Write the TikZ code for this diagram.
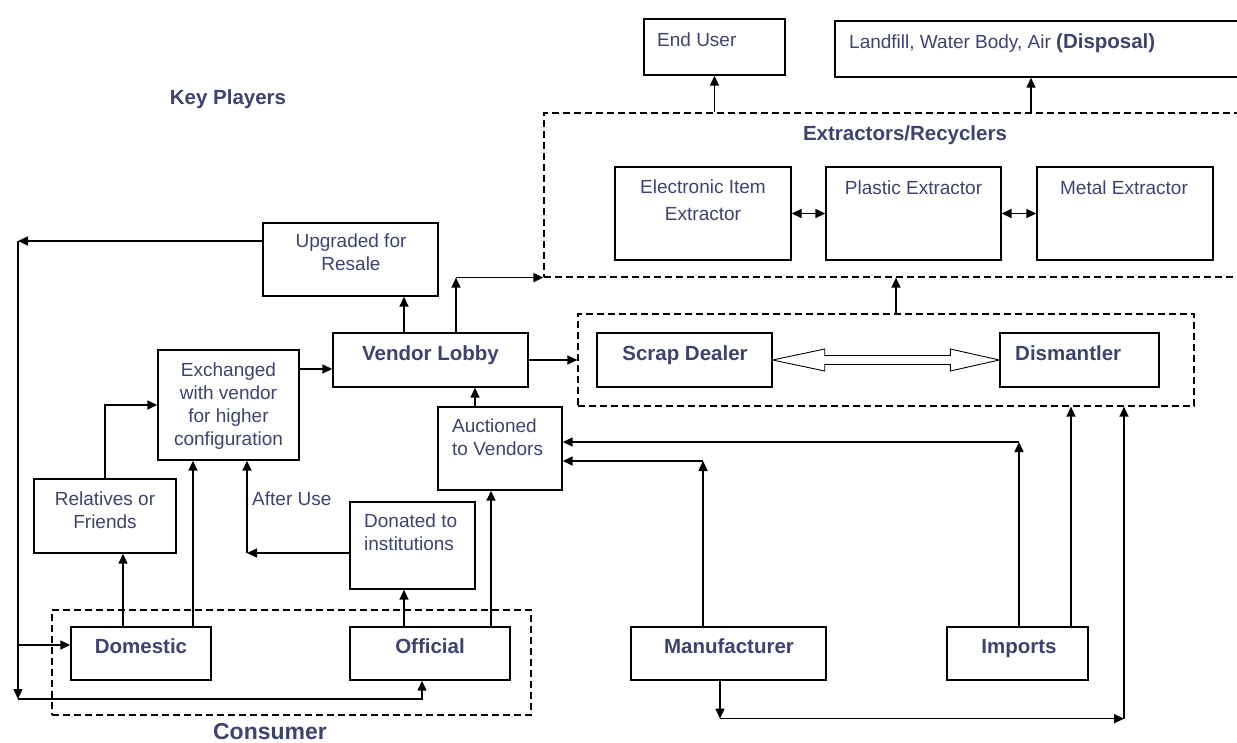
\documentclass[tikz,border=0pt]{standalone}
\usepackage{fontspec}
\setmainfont{Liberation Sans}
\usetikzlibrary{arrows.meta,calc}
\definecolor{inkblue}{RGB}{62,66,112}

\tikzset{
	box/.style={draw, line width=1.4pt, inner sep=0pt},
	group/.style={draw, dash pattern=on 7pt off 4pt, line width=1.2pt, inner sep=0pt},
	lbl/.style={inner sep=0pt, text=inkblue, font=\fontsize{19}{23}\selectfont, align=center},
	head/.style={inner sep=0pt, text=inkblue, font=\bfseries\fontsize{20.5}{25}\selectfont},
	arr/.style={line width=1.5pt, -{Triangle[length=10pt,width=9pt]}},
	dbl/.style={line width=1.5pt, {Triangle[length=10pt,width=9pt]}-{Triangle[length=10pt,width=9pt]}},
}

\begin{document}
\begin{tikzpicture}[x=1pt, y=-1pt]

	\useasboundingbox (0,0) rectangle (1237,742);

	% Grups
	\node[group, minimum width=701pt, minimum height=164pt] (extr) at (894.5,195) {};
	\node[group, minimum width=616pt, minimum height=92pt] (sgrp) at (886,360) {};
	\node[group, minimum width=479pt, minimum height=105pt] (cons) at (291.5,662.5) {};

	% Caixes
	\node[box, minimum width=141pt, minimum height=56pt] (endu) at (714.5,47) {};
	\node[box, minimum width=410pt, minimum height=56pt] (land) at (1040,49) {};
	\node[box, minimum width=176pt, minimum height=93pt] (elec) at (703,213.5) {};
	\node[box, minimum width=175pt, minimum height=93pt] (plas) at (913.5,213.5) {};
	\node[box, minimum width=176pt, minimum height=93pt] (metal) at (1125,213.5) {};
	\node[box, minimum width=175pt, minimum height=73pt] (upg) at (350.5,259.5) {};
	\node[box, minimum width=195pt, minimum height=54pt] (vend) at (430.5,360) {};
	\node[box, minimum width=175pt, minimum height=54pt] (scrap) at (684.5,360) {};
	\node[box, minimum width=159pt, minimum height=54pt] (dism) at (1079.5,360) {};
	\node[box, minimum width=141pt, minimum height=110pt] (exch) at (228.5,405) {};
	\node[box, minimum width=124pt, minimum height=83pt] (auct) at (500,448.5) {};
	\node[box, minimum width=142pt, minimum height=74pt] (rel) at (105,516) {};
	\node[box, minimum width=125pt, minimum height=87pt] (don) at (412.5,545.5) {};
	\node[box, minimum width=140pt, minimum height=53pt] (dom) at (141,653.5) {};
	\node[box, minimum width=160pt, minimum height=53pt] (off) at (430,653.5) {};
	\node[box, minimum width=195pt, minimum height=53pt] (manu) at (728.5,653.5) {};
	\node[box, minimum width=141pt, minimum height=53pt] (imp) at (1017.5,653.5) {};

	% Textos
	\node[head, anchor=base] (keyT) at (228,104) {Key Players};
	\node[lbl, anchor=base west] (enduT) at (657,46) {End User};
	\node[lbl, anchor=base west] (landT) at (849,48) {Landfill, Water Body, Air {\bfseries\fontsize{20.5}{25}\selectfont (Disposal)}};
	\node[head, anchor=base] (extrT) at (905,140) {Extractors/Recyclers};
	\node[lbl, anchor=north] (elecT) at (703,180) {Electronic Item\\[4pt]Extractor};
	\node[lbl, anchor=base] (plasT) at (913.5,194) {Plastic Extractor};
	\node[lbl, anchor=base] (metalT) at (1124,194) {Metal Extractor};
	\node[lbl, anchor=north] (upgT) at (351,234) {Upgraded for\\Resale};
	\node[head, anchor=base] (vendT) at (430.5,360) {Vendor Lobby};
	\node[head, anchor=base] (scrapT) at (685,360) {Scrap Dealer};
	\node[head, anchor=base west] (dismT) at (1015,360) {Dismantler};
	\node[lbl, anchor=north] (exchT) at (228.5,363) {Exchanged\\with vendor\\for higher\\configuration};
	\node[lbl, anchor=north west, align=left] (auctT) at (452,419) {Auctioned\\to Vendors};
	\node[lbl, anchor=north] (relT) at (105,492) {Relatives or\\Friends};
	\node[lbl, anchor=north west, align=left] (donT) at (364,514) {Donated to\\institutions};
	\node[lbl, anchor=base west] (afterT) at (252,505) {After Use};
	\node[head, anchor=base] (domT) at (141,653) {Domestic};
	\node[head, anchor=base] (offT) at (430,653) {Official};
	\node[head, anchor=base] (manuT) at (729,653) {Manufacturer};
	\node[head, anchor=base] (impT) at (1019,653) {Imports};
	\node[head, anchor=base, font=\bfseries\fontsize{23}{27}\selectfont] (consT) at (270,739) {Consumer};

	% Extractors
	\draw[arr] (endu.south |- extr.north) -- (endu.south);
	\draw[arr] ([xshift=-9pt]land.south |- extr.north) -- ([xshift=-9pt]land.south);
	\draw[dbl] (elec) -- (plas);
	\draw[dbl] (plas) -- (metal);
	\draw[arr] ([xshift=10pt]sgrp.north) -- ([xshift=10pt]sgrp.north |- extr.south);

	% Scrap dealer i dismantler
	\draw[line width=0.9pt, fill=white] (scrap.east) -- ++(52,-11) -- ++(0,6.5)
		-- ($(dism.west)+(-49,-4.5)$) -- ++(0,-6.5) -- (dism.west) -- ++(-49,11) -- ++(0,-6.5)
		-- ($(scrap.east)+(52,4.5)$) -- ++(0,6.5) -- cycle;

	% Vendor lobby
	\coordinate (vup) at ([xshift=25.5pt]vend.north |- extr.south);
	\draw[arr] ([xshift=25.5pt]vend.north) -- (vup);
	\draw[arr] (vup) -- (extr.south west);
	\draw[arr] ([xshift=-26.5pt]vend.north) -- ([xshift=-26.5pt]vend.north |- upg.south);
	\draw[arr] (vend.east) -- (sgrp.west);
	\draw[arr] ([yshift=36pt]exch.east) -- ([yshift=36pt]exch.east -| vend.west);
	\draw[arr] ([xshift=-25pt]auct.north) -- ([xshift=-25pt]auct.north |- vend.south);

	% Consumidor
	\draw[arr] (rel.north) |- (exch.west);
	\draw[arr] ([xshift=-18pt]dom.north) -- ([xshift=-18pt]dom.north |- rel.south);
	\draw[arr] ([xshift=52pt]dom.north) -- ([xshift=52pt]dom.north |- exch.south);
	\path ([xshift=18.5pt]exch.south) coordinate (ex) ([yshift=-7.5pt]don.west) coordinate (dw);
	\coordinate (aft) at (ex |- dw);
	\draw[arr] (dw) -- (aft);
	\draw[arr] (aft) -- (ex);
	\draw[arr] ([xshift=-26pt]off.north) -- ([xshift=-26pt]off.north |- don.south);
	\draw[arr] ([xshift=61pt]off.north) -- ([xshift=61pt]off.north |- auct.south);

	% Revenda
	\coordinate (lft) at (18,241);
	\coordinate (lftb) at (18,699);
	\coordinate (domin) at ([yshift=8.5pt]dom.west);
	\draw[arr] ([yshift=18.5pt]upg.west) -- (lft);
	\draw[arr] (lft) -- (lftb);
	\draw[arr] (lftb) -| ([xshift=-8pt]off.south);
	\draw[arr] (lft |- domin) -- (domin);

	% Fabricant i importacions
	\path ([xshift=-25.5pt]manu.north) coordinate (mn) ([yshift=-12.5pt]auct.east) coordinate (am);
	\coordinate (mc) at (mn |- am);
	\draw[arr] (mn) -- (mc);
	\draw[arr] (mc) -- (am);
	\path ([xshift=1.5pt]imp.north) coordinate (ipn) ([yshift=6.5pt]auct.east) coordinate (ai);
	\coordinate (ic) at (ipn |- ai);
	\draw[arr] (ipn) -- (ic);
	\draw[arr] (ic) -- (ai);
	\draw[arr] ([xshift=53.5pt]imp.north) -- ([xshift=53.5pt]imp.north |- sgrp.south);
	\path ([xshift=-8.5pt]manu.south) coordinate (ms) ([xshift=238pt]sgrp.south) coordinate (sb);
	\coordinate (mb) at ([yshift=-38pt]ms);
	\coordinate (rb) at (sb |- mb);
	\draw[arr] (ms) -- (mb);
	\draw[arr] (mb) -- (rb);
	\draw[arr] (rb) -- (sb);

\end{tikzpicture}
\end{document}
